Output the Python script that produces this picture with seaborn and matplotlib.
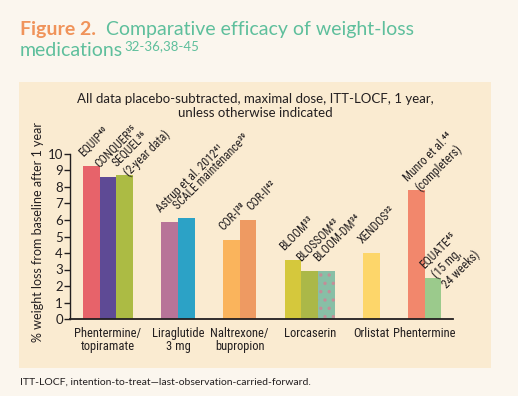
import numpy as np
import pandas as pd
import matplotlib
matplotlib.use("Agg")
import matplotlib.pyplot as plt
from matplotlib import font_manager
from matplotlib.patches import Rectangle
import seaborn as sns

# ── data ─────────────────────────────────────────────
drugs = ["Phentermine/\ntopiramate", "Liraglutide\n3 mg", "Naltrexone/\nbupropion",
         "Lorcaserin", "Orlistat", "Phentermine"]
study_drug = [0, 0, 0, 1, 1, 2, 2, 3, 3, 3, 4, 5, 5]
studies = ["EQUIP⁴⁰", "CONQUER³⁵", "SEQUEL³⁶\n(2-year data)",
           "Astrup et al. 2012⁴¹", "SCALE maintenance³⁹",
           "COR-I³⁸", "COR-II⁴²",
           "BLOOM³³", "BLOSSOM⁴³", "BLOOM-DM³⁴",
           "XENDOS³²",
           "Munro et al.⁴⁴\n(completers)", "EQUATE⁴⁵\n(15 mg,\n24 weeks)"]
values = [9.3, 8.6, 8.7, 5.9, 6.1, 4.8, 6.0, 3.6, 2.9, 2.9, 4.0, 7.8, 2.5]
bar_colors = ["#E7636A", "#5E4A95", "#ACBB44", "#B87498", "#2CA2C6",
              "#FAB45C", "#EE9A62", "#D5C83C", "#ABB848", "#88BFA6",
              "#FDD66A", "#F2876C", "#9BCA8C"]
yticks = list(range(0, 11))

# ── style ────────────────────────────────────────────
BG = "#FBF6EE"
PANEL = "#FAEBD1"
ORANGE = "#F0935A"
TEAL = "#5EBF9C"
INK = "#231F20"

sns.set_theme(style="ticks")
plt.rcParams["font.family"] = ["Lato", "DejaVu Sans"]
plt.rcParams["hatch.linewidth"] = 1.2

# look for a condensed / narrow face for the bar and group labels
narrow_file = None
for f in font_manager.fontManager.ttflist:
    fn = f.fname.lower()
    if ("narrow" in fn or "condensed" in fn) and "bold" not in fn \
            and "italic" not in fn and "oblique" not in fn and "mono" not in fn:
        if narrow_file is None or "liberation" in fn or "roboto" in fn:
            narrow_file = f.fname
if narrow_file:
    NARROW_FP = font_manager.FontProperties(fname=narrow_file)
else:
    NARROW_FP = font_manager.FontProperties(family="DejaVu Sans", stretch="condensed")

# bar positions: consecutive within a drug, gap between drugs
GAP = 1.7
pos, x = [], 0.0
for g in range(len(drugs)):
    for s in range(study_drug.count(g)):
        pos.append(x)
        x += 1
    x += GAP

df = pd.DataFrame({"pos": pos, "study": studies, "value": values,
                   "drug": [drugs[g] for g in study_drug]})

fig = plt.figure(figsize=(5.18, 3.96), dpi=100)
fig.patch.set_facecolor(BG)
fig.add_artist(Rectangle((19 / 518, 28 / 396), 472 / 518, 286 / 396,
                         transform=fig.transFigure, facecolor=PANEL,
                         edgecolor="none", zorder=0))

ax = fig.add_axes([70 / 518, 77 / 396, 383 / 518, 165 / 396])
ax.patch.set_alpha(0)

sns.barplot(data=df, x="pos", y="value", hue="study", hue_order=studies,
            palette=dict(zip(studies, bar_colors)), native_scale=True,
            dodge=False, width=1.0, saturation=1, legend=False,
            linewidth=0, ax=ax)

# dotted bar (BLOOM-DM)
dm = pos[studies.index("BLOOM-DM³⁴")]
for p in ax.patches:
    if abs(p.get_x() + p.get_width() / 2 - dm) < 0.1:
        p.set_hatch("..")
        p.set_edgecolor("#C48D98")
        p.set_linewidth(0)

ax.set_xlim(-1.28, pos[-1] + 1.2)
ax.set_ylim(0, 10)
ax.set_yticks(yticks)
ax.tick_params(axis="y", length=4, width=1, color=INK, labelsize=9.5,
               labelcolor=INK, pad=1)

centers = [np.mean([p for p, g in zip(pos, study_drug) if g == i])
           for i in range(len(drugs))]
ax.set_xticks(centers)
ax.set_xticklabels(drugs, color=INK, linespacing=1.0)
for t in ax.get_xticklabels():
    t.set_fontproperties(NARROW_FP)
    t.set_fontsize(9)
ax.tick_params(axis="x", length=0, pad=6)
ax.set_xlabel("")
ax.set_ylabel("")
for side in ["top", "right"]:
    ax.spines[side].set_visible(False)
ax.spines["left"].set_color(INK)
ax.spines["bottom"].set_color(INK)
ax.spines["left"].set_linewidth(1)
ax.spines["bottom"].set_linewidth(1.3)

# study labels above bars (COR-II label sits a little to the right, as in the original)
ANG = 45
LINE = 10.0
s, c = np.sin(np.radians(ANG)), np.cos(np.radians(ANG))
for i, (p, v, lab) in enumerate(zip(pos, values, studies)):
    dx = 0.7 if lab.startswith("COR-II") else 0.0
    for k, line in enumerate(lab.split("\n")):
        t = ax.annotate(line, xy=(p - 0.38 + dx, v + 0.4), xycoords="data",
                        xytext=(k * LINE * s + (2 if k else 0), -k * LINE * c),
                        textcoords="offset points",
                        rotation=ANG, rotation_mode="anchor", ha="left", va="bottom",
                        color=INK, annotation_clip=False)
        t.set_fontproperties(NARROW_FP)
        t.set_fontsize(8.5)

# texts
fig.text(38 / 518, 0.414, "% weight loss from baseline after 1 year",
         rotation=90, ha="center", va="center", fontsize=9, color=INK)
fig.text(255 / 518, 1 - 106 / 396,
         "All data placebo-subtracted, maximal dose, ITT-LOCF, 1 year,\nunless otherwise indicated",
         ha="center", va="center", fontsize=9.5, color=INK, linespacing=1.15)

t1 = fig.text(20 / 518, 1 - 38 / 396, "Figure 2.", fontsize=14, fontweight="bold",
              color=ORANGE, va="bottom")
ax.annotate("Comparative efficacy of weight-loss", xy=(1, 0), xycoords=t1,
            xytext=(7, 0), textcoords="offset points", fontsize=14, color=TEAL,
            va="bottom", ha="left", annotation_clip=False)
t2 = fig.text(20 / 518, 1 - 59 / 396, "medications", fontsize=14, color=TEAL,
              va="bottom")
ax.annotate("32-36,38-45", xy=(1, 1), xycoords=t2, xytext=(1, 1),
            textcoords="offset points", fontsize=9.5, color=TEAL,
            va="top", ha="left", annotation_clip=False)

fig.text(20 / 518, 1 - 382 / 396,
         "ITT-LOCF, intention-to-treat\u2014last-observation-carried-forward.",
         fontsize=7.5, color=INK, va="center")

fig.savefig("out.png", dpi=100, facecolor=BG)
